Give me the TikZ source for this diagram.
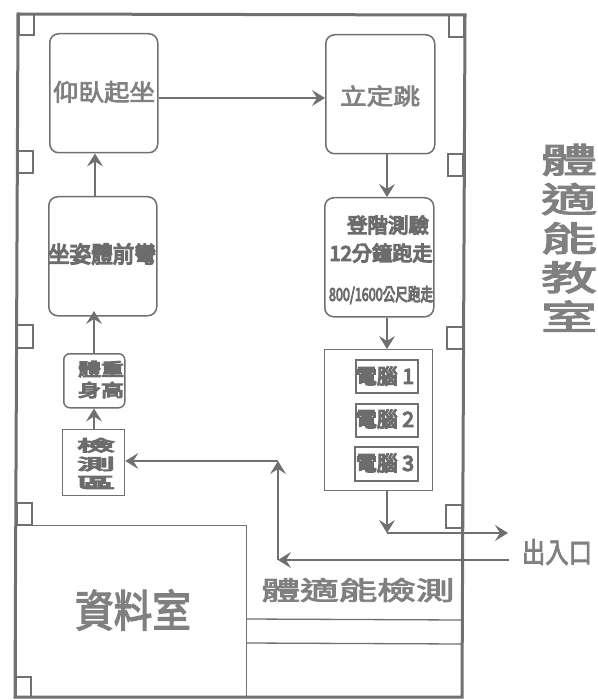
\documentclass[tikz,border=0pt]{standalone}
\usepackage{fontspec}
\setmainfont{Noto Sans CJK TC}
\newfontfamily\heavy[FakeBold=3]{Noto Sans CJK TC}
\newfontfamily\heavier[FakeBold=6]{Noto Sans CJK TC}
\usetikzlibrary{arrows.meta}
\definecolor{ln}{HTML}{707070}
\definecolor{tx}{HTML}{808080}
\definecolor{txd}{HTML}{6C6C6C}
\newcommand{\fitto}[3]{\resizebox*{#1pt}{#2pt}{#3}}
\newcommand{\stackup}[1]{\begin{tabular}{@{}c@{}}#1\end{tabular}}
\newcommand{\tightstack}[1]{\renewcommand{\arraystretch}{0.82}\begin{tabular}{@{}c@{}}#1\end{tabular}}
\tikzset{
  x=1pt,y=-1pt,
  wall/.style={draw=ln,line width=3pt,line join=miter},
  line/.style={draw=ln,line width=1.3pt},
  stub/.style={draw=ln,line width=2pt,fill=white},
  room/.style={draw=ln,line width=1.5pt,rounded corners=9pt,inner sep=0pt},
  plain/.style={draw=ln,line width=1.3pt,inner sep=0pt},
  pc/.style={draw=ln,line width=1.6pt,inner sep=0pt},
  txt/.style={inner sep=0pt,text=tx},
  dark/.style={inner sep=0pt,text=txd},
  arr/.style={draw=ln,line width=1.4pt,-{Stealth[length=13pt,width=16pt,inset=5pt]}},
}
\begin{document}
\begin{tikzpicture}
\useasboundingbox[fill=white] (0,0) rectangle (597,700);
% door stubs
\foreach \a/\b/\c/\d in {19/14/34/35, 17/151/33/173, 16/325/33/348, 17/503/32/525, 16/677/31/697,
  449/15/464/37, 448/154/463/176, 447/327/463/349, 446/505/462/528}{
  \draw[stub] (\a,\b) rectangle (\c,\d);
}
% outer wall
\draw[wall] (18,14) -- (465,15) -- (462,697) -- (15,697) -- cycle;
% data room and counters
\node[plain,anchor=north west,minimum width=230pt,minimum height=172pt] (data) at (16,525) {};
\coordinate (c1a) at (246,619); \coordinate (c1b) at (462,620);
\coordinate (c2a) at (246,643); \coordinate (c2b) at (462,644);
\draw[line] (c1a) -- (c1b);
\draw[line] (c2a) -- (c2b);
% stations
\node[room,anchor=north west,minimum width=108pt,minimum height=119pt] (situp) at (49,33) {};
\node[room,anchor=north west,minimum width=109pt,minimum height=119pt] (jump) at (325,34) {};
\node[room,anchor=north west,minimum width=108pt,minimum height=119pt] (reach) at (48,196) {};
\node[room,anchor=north west,minimum width=109pt,minimum height=119pt] (stepbox) at (324,197) {};
\node[room,rounded corners=6pt,anchor=north west,minimum width=61pt,minimum height=54pt] (body) at (63,353) {};
\node[plain,anchor=north west,minimum width=62pt,minimum height=66pt] (check) at (62,429) {};
\node[plain,anchor=north west,minimum width=108pt,minimum height=141pt] (pcs) at (324,349) {};
\node[pc,anchor=north west,minimum width=62pt,minimum height=33pt] (pc1) at (355,359) {};
\node[pc,anchor=north west,minimum width=62pt,minimum height=33pt] (pc2) at (355,403) {};
\node[pc,anchor=north west,minimum width=63pt,minimum height=34pt] (pc3) at (354,446) {};
% labels
\node[txt] (t1) at (104,92) {\fitto{102}{22}{\heavy 仰臥起坐}};
\node[txt] (t2) at (380,96) {\fitto{80}{21}{\heavy 立定跳}};
\node[dark] (t3) at (102,254) {\fitto{108}{21}{\heavier 坐姿體前彎}};
\node[dark] (t4) at (388,225) {\fitto{82}{19}{\heavier 登階測驗}};
\node[dark] (t5) at (381,253) {\fitto{103}{19}{\heavier 12分鐘跑走}};
\node[dark] (t6) at (381,295) {\fitto{104}{18}{\heavier 800/1600公尺跑走}};
\node[dark] (t7) at (101,382) {\fitto{46}{42}{\heavier\stackup{體重\\身高}}};
\node[dark] (t8) at (96,466) {\fitto{38}{56}{\heavier\stackup{檢\\測\\區}}};
\node[dark] (t9) at (385,376) {\fitto{58}{19}{\heavier 電腦 1}};
\node[dark] (t10) at (385,419) {\fitto{58}{19}{\heavier 電腦 2}};
\node[dark] (t11) at (385,463) {\fitto{58}{19}{\heavier 電腦 3}};
\node[txt] (t12) at (133,610) {\fitto{116}{41}{\heavy 資料室}};
\node[txt] (t13) at (358,590) {\fitto{193}{24}{\heavy 體適能檢測}};
\node[txt] (t14) at (557,552) {\fitto{70}{26}{\heavy 出入口}};
\node[txt] (t15) at (569,242) {\fitto{56}{196}{\heavy\tightstack{體\\適\\能\\教\\室}}};
% connectors
\coordinate (turn) at (387,533);
\coordinate (exit) at (508,533);
\coordinate (in0) at (509,560);
\coordinate (in1) at (278,560);
\coordinate (in2) at (278,461);
\draw[arr] (situp.east |- 0,98) -- (jump.west |- 0,98);
\draw[arr] (reach.north -| 95,0) -- (situp.south -| 95,0);
\draw[arr] (body.north -| 94,0) -- (94,311);
\draw[arr] (check.north -| 94,0) -- (body.south -| 94,0);
\draw[arr] (jump.south -| 387,0) -- (stepbox.north -| 387,0);
\draw[arr] (stepbox.south -| 387,0) -- (pcs.north -| 387,0);
\draw[arr] (pcs.south -| turn) -- (turn);
\draw[arr] (turn) -- (exit);
\draw[arr] (in0) -- (in1);
\draw[arr] (in1) -- (in2);
\draw[arr] (in2) -- (check.east |- in2);
\end{tikzpicture}
\end{document}
